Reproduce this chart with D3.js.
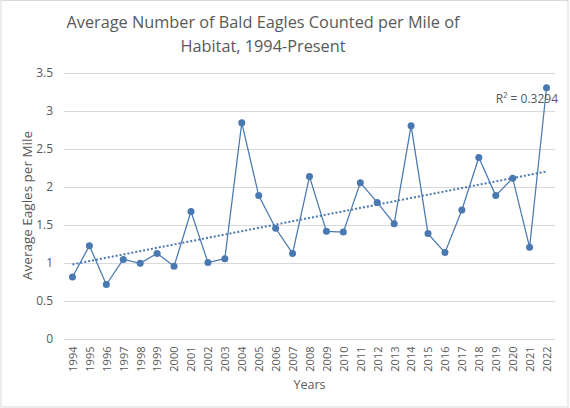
<!DOCTYPE html>
<html>
<head>
<meta charset="utf-8">
<script src="https://cdn.jsdelivr.net/npm/d3@7"></script>
<style>
  body { margin: 0; background: #fff; }
  text { font-family: "Open Sans", "Noto Sans", sans-serif; fill: #595959; }
</style>
</head>
<body>
<div id="chart"></div>
<script>
// Data
const years = ["1994", "1995", "1996", "1997", "1998", "1999", "2000", "2001", "2002", "2003",
               "2004", "2005", "2006", "2007", "2008", "2009", "2010", "2011", "2012", "2013",
               "2014", "2015", "2016", "2017", "2018", "2019", "2020", "2021", "2022"];
const eagles = [0.81, 1.22, 0.71, 1.04, 0.99, 1.12, 0.95, 1.67, 1.00, 1.05,
                2.84, 1.88, 1.45, 1.12, 2.13, 1.41, 1.40, 2.05, 1.79, 1.51,
                2.80, 1.38, 1.13, 1.69, 2.38, 1.88, 2.11, 1.20, 3.30];
const yTicks = [0, 0.5, 1, 1.5, 2, 2.5, 3, 3.5];
const titleLines = ["Average Number of Bald Eagles Counted per Mile of", "Habitat, 1994-Present"];
const rSquaredLabel = "R\u00B2 = 0.3294";

const W = 570, H = 408;
const margin = {top: 72.5, right: 15, bottom: 69.5, left: 64};

const svg = d3.select("#chart")
    .append("svg")
    .attr("width", W)
    .attr("height", H);

// Chart area border
svg.append("rect")
    .attr("x", 1).attr("y", 0.5)
    .attr("width", W - 3).attr("height", H - 1.5)
    .attr("fill", "#fff")
    .attr("stroke", "#d9d9d9");

const x = d3.scalePoint()
    .domain(years)
    .range([margin.left, W - margin.right])
    .padding(0.5);

const y = d3.scaleLinear()
    .domain([0, 3.5])
    .range([H - margin.bottom, margin.top]);

// Gridlines
svg.append("g")
    .selectAll("line")
    .data(yTicks)
    .enter()
    .append("line")
    .attr("x1", margin.left).attr("x2", W - margin.right)
    .attr("y1", d => Math.round(y(d)) + 0.5).attr("y2", d => Math.round(y(d)) + 0.5)
    .attr("stroke", "#d9d9d9");

// Y axis (labels only)
const yAxis = svg.append("g")
    .attr("transform", `translate(${margin.left},0)`)
    .call(d3.axisLeft(y).tickValues(yTicks).tickSize(0).tickPadding(11).tickFormat(d3.format("")));
yAxis.select(".domain").remove();
yAxis.selectAll("text")
    .style("font-size", "12px")
    .style("fill", "#595959")
    .style("font-family", "\"Open Sans\", sans-serif");

// X axis, rotated year labels
const xAxis = svg.append("g")
    .attr("transform", `translate(0,${H - margin.bottom})`)
    .call(d3.axisBottom(x).tickSize(0));
xAxis.select(".domain").remove();
xAxis.selectAll("text")
    .attr("transform", "rotate(-90)")
    .attr("x", -8).attr("y", 0).attr("dy", "0.35em")
    .style("text-anchor", "end")
    .style("font-size", "11px")
    .style("fill", "#595959")
    .style("font-family", "\"Open Sans\", sans-serif");

// Axis titles
svg.append("text")
    .attr("x", (margin.left + W - margin.right) / 2)
    .attr("y", 389)
    .attr("text-anchor", "middle")
    .style("font-size", "12.5px")
    .text("Years");

svg.append("text")
    .attr("transform", "rotate(-90)")
    .attr("x", -(margin.top + H - margin.bottom) / 2)
    .attr("y", 32)
    .attr("text-anchor", "middle")
    .style("font-size", "13.5px")
    .text("Average Eagles per Mile");

// Chart title
const title = svg.append("text")
    .attr("text-anchor", "middle")
    .style("font-size", "16.3px");
titleLines.forEach((t, i) => {
    title.append("tspan")
        .attr("x", 263)
        .attr("y", 28 + i * 24)
        .text(t);
});

// Linear trendline (least squares on year index)
const n = eagles.length;
const xi = d3.range(n);
const mx = d3.mean(xi), my = d3.mean(eagles);
const slope = d3.sum(xi, i => (i - mx) * (eagles[i] - my)) / d3.sum(xi, i => (i - mx) ** 2);
const intercept = my - slope * mx;

svg.append("line")
    .attr("x1", x(years[0])).attr("x2", x(years[n - 1]))
    .attr("y1", y(intercept)).attr("y2", y(intercept + slope * (n - 1)))
    .attr("stroke", "#4a78b0")
    .attr("stroke-width", 2)
    .attr("stroke-dasharray", "2,2");

// Data line
const line = d3.line()
    .x((d, i) => x(years[i]))
    .y(d => y(d));

svg.append("path")
    .datum(eagles)
    .attr("fill", "none")
    .attr("stroke", "#4a78b0")
    .attr("stroke-width", 1.25)
    .attr("d", line);

// Markers
svg.selectAll(".dot")
    .data(eagles)
    .enter()
    .append("circle")
    .attr("class", "dot")
    .attr("cx", (d, i) => x(years[i]))
    .attr("cy", d => y(d))
    .attr("r", 3.5)
    .attr("fill", "#4a78b0");

// R squared label
svg.append("text")
    .attr("x", 558)
    .attr("y", 103)
    .attr("text-anchor", "end")
    .style("font-size", "12px")
    .text(rSquaredLabel);
</script>
</body>
</html>
